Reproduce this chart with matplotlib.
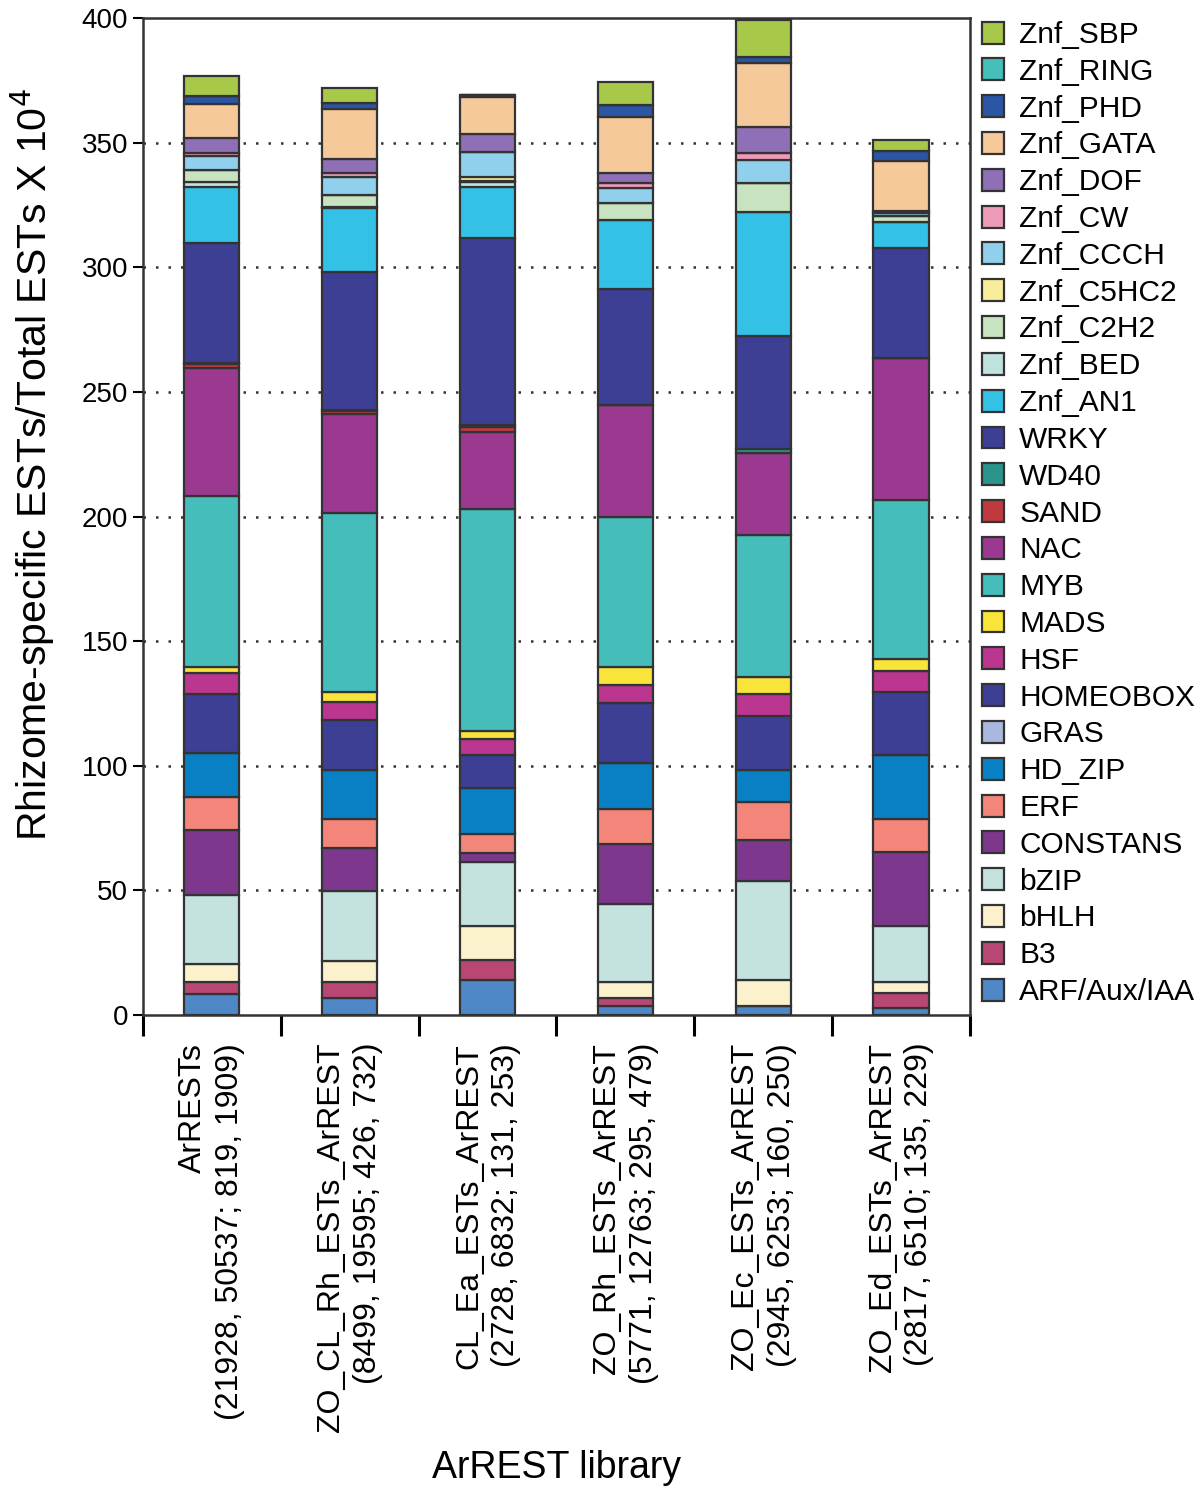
import numpy as np
import matplotlib.pyplot as plt

plt.rcParams['font.family'] = ['Liberation Sans', 'DejaVu Sans']

libraries = ['ArRESTs\n(21928, 50537; 819, 1909)',
             'ZO_CL_Rh_ESTs_ArREST\n(8499, 19595; 426, 732)',
             'CL_Ea_ESTs_ArREST\n(2728, 6832; 131, 253)',
             'ZO_Rh_ESTs_ArREST\n(5771, 12763; 295, 479)',
             'ZO_Ec_ESTs_ArREST\n(2945, 6253; 160, 250)',
             'ZO_Ed_ESTs_ArREST\n(2817, 6510; 135, 229)']

# families from bottom of the stack to the top
families = ['ARF/Aux/IAA', 'B3', 'bHLH', 'bZIP', 'CONSTANS', 'ERF', 'HD_ZIP',
            'GRAS', 'HOMEOBOX', 'HSF', 'MADS', 'MYB', 'NAC', 'SAND', 'WD40',
            'WRKY', 'Znf_AN1', 'Znf_BED', 'Znf_C2H2', 'Znf_C5HC2', 'Znf_CCCH',
            'Znf_CW', 'Znf_DOF', 'Znf_GATA', 'Znf_PHD', 'Znf_RING', 'Znf_SBP']

colors = ['#4f88c6', '#b94774', '#fbf2cd', '#c4e3de', '#7d388e', '#f4857a',
          '#0a80c4', '#a9b8de', '#3d3f94', '#ba368f', '#f9e43a', '#44bdbb',
          '#9a398f', '#c0393f', '#2a948c', '#3d3f94', '#34c1e6', '#bfe2de',
          '#c8e3bf', '#f8ed9b', '#90d0ec', '#ee9bb9', '#8f6fb5', '#f6c99b',
          '#2b55a5', '#45bfb9', '#a8c84a']

# values per family (x 10^4), one per library
arf = [8.4, 6.9, 14.0, 3.7, 3.7, 2.9]
b3 = [5.0, 6.5, 8.1, 3.2, 0.0, 5.8]
bhlh = [7.1, 8.4, 13.7, 6.5, 10.3, 4.4]
bzip = [27.7, 28.1, 25.7, 31.0, 39.8, 22.6]
constans = [26.0, 17.1, 3.4, 24.2, 16.4, 29.8]
erf = [13.1, 11.5, 7.6, 13.9, 15.4, 13.1]
hd_zip = [17.7, 19.8, 18.7, 18.7, 12.7, 25.7]
gras = [0.0, 0.0, 0.0, 0.0, 0.0, 0.0]
homeobox = [23.8, 20.1, 13.1, 24.1, 21.7, 25.2]
hsf = [8.5, 7.1, 6.4, 7.1, 8.7, 8.5]
mads = [2.2, 4.0, 3.2, 7.4, 7.0, 4.7]
myb = [68.7, 71.8, 89.0, 59.9, 57.0, 63.9]
nac = [51.2, 39.7, 31.1, 45.0, 32.7, 56.9]
sand = [1.8, 1.3, 2.0, 0.0, 0.0, 0.0]
wd40 = [0.4, 0.4, 0.6, 0.0, 1.7, 0.0]
wrky = [48.2, 55.4, 75.3, 46.4, 45.3, 44.1]
znf_an1 = [22.3, 25.5, 20.4, 27.9, 49.9, 10.6]
znf_bed = [2.2, 0.7, 2.0, 0.0, 0.0, 0.0]
znf_c2h2 = [4.7, 4.7, 0.3, 6.9, 11.4, 2.3]
znf_c5hc2 = [0.0, 0.0, 1.7, 0.0, 0.0, 0.0]
znf_ccch = [5.6, 7.1, 10.1, 6.0, 9.3, 1.3]
znf_cw = [1.4, 1.9, 0.0, 1.9, 3.0, 0.0]
znf_dof = [5.7, 5.3, 7.1, 3.9, 10.4, 0.6]
znf_gata = [13.8, 20.1, 14.7, 22.7, 25.7, 20.1]
znf_phd = [3.3, 2.4, 0.9, 4.7, 2.4, 4.0]
znf_ring = [0.0, 0.0, 0.0, 0.0, 0.0, 0.0]
znf_sbp = [8.1, 6.2, 0.0, 9.3, 14.7, 4.4]

values = [arf, b3, bhlh, bzip, constans, erf, hd_zip, gras, homeobox, hsf,
          mads, myb, nac, sand, wd40, wrky, znf_an1, znf_bed, znf_c2h2,
          znf_c5hc2, znf_ccch, znf_cw, znf_dof, znf_gata, znf_phd, znf_ring,
          znf_sbp]

fig = plt.figure(figsize=(12, 14.89), dpi=100)
ax = fig.add_axes([0.119, 0.3183, 0.6893, 0.6696])

x = np.arange(len(libraries)) + 0.5
bottom = np.zeros(len(libraries))
handles = []
for name, col, vals in zip(families, colors, values):
    vals = np.array(vals)
    h = ax.bar(x, vals, 0.4, bottom=bottom, color=col, edgecolor='#333333',
               linewidth=1.6, label=name, zorder=3)
    handles.append(h)
    bottom = bottom + vals

ax.set_xlim(0, len(libraries))
ax.set_ylim(0, 400)
ax.set_yticks(np.arange(0, 401, 50))
ax.tick_params(axis='y', labelsize=20, length=7, width=1.5, direction='out')
for y in range(50, 400, 50):
    ax.axhline(y, color='#333333', linestyle=(0, (1, 4)), linewidth=1.8, zorder=1)

ax.set_xticks(np.arange(0, len(libraries) + 1))
ax.set_xticklabels([])
ax.tick_params(axis='x', which='major', length=15, width=2.2, direction='out')
ax.set_xticks(x, minor=True)
ax.set_xticklabels(libraries, minor=True, rotation=90, fontsize=23,
                   ha='center', va='top', multialignment='right',
                   linespacing=1.3)
ax.tick_params(axis='x', which='minor', length=0, pad=20)

for s in ax.spines.values():
    s.set_linewidth(1.8)
    s.set_color('#333333')

ax.set_ylabel('Rhizome-specific ESTs/Total ESTs X 10$^4$', fontsize=29.5)
ax.yaxis.set_label_coords(-0.104, 0.552)
fig.text(0.464, 0.0141, 'ArREST library', fontsize=27, ha='center', va='center')

leg = ax.legend(handles[::-1], families[::-1], loc='upper left',
                bbox_to_anchor=(1.0, 1.009), frameon=False, fontsize=21.5,
                handlelength=0.75, handleheight=0.75, handletextpad=0.5,
                labelspacing=0.295, borderaxespad=0.4, borderpad=0.0)

fig.savefig('out.png', dpi=100)
